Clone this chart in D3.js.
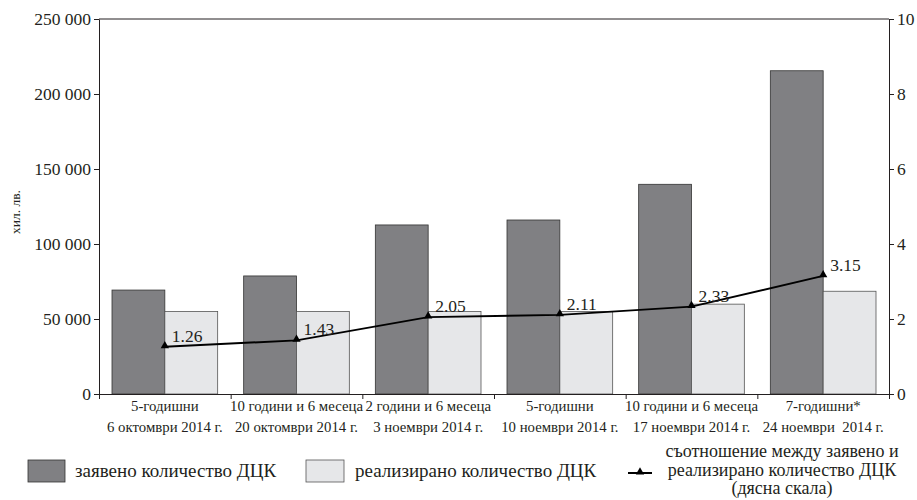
<!DOCTYPE html>
<html>
<head>
<meta charset="utf-8">
<script src="https://cdn.jsdelivr.net/npm/d3@7"></script>
<style>
  body { margin: 0; background: #fff; }
</style>
</head>
<body>
<script>
// data
var line1 = ["5-годишни", "10 години и 6 месеца", "2 години и 6 месеца", "5-годишни", "10 години и 6 месеца", "7-годишни*"];
var line2 = ["6 октомври 2014 г.", "20 октомври 2014 г.", "3 ноември 2014 г.", "10 ноември 2014 г.", "17 ноември 2014 г.", "24 ноември  2014 г."];
var zayaveno = [69300, 78700, 112700, 116000, 139800, 215500];
var realizirano = [55000, 55000, 55000, 55000, 59900, 68500];
var ratio = [1.26, 1.43, 2.05, 2.11, 2.33, 3.15];
var leftTicks = [0, 50000, 100000, 150000, 200000, 250000];
var rightTicks = [0, 2, 4, 6, 8, 10];

var FONT = "'Liberation Serif'";
var INK = "#231f20";

var margin = {top: 19, right: 28, bottom: 106, left: 99};
var width = 917 - margin.left - margin.right;
var height = 500 - margin.top - margin.bottom;

var svg = d3.select("body").append("svg")
  .attr("width", 917)
  .attr("height", 500);
var g = svg.append("g")
  .attr("transform", "translate(" + margin.left + "," + margin.top + ")");

var idx = d3.range(line1.length);
var xScale = d3.scaleBand().domain(idx).range([0, width]);
var yScale = d3.scaleLinear().domain([0, 250000]).range([height, 0]);
var rScale = d3.scaleLinear().domain([0, 10]).range([height, 0]);

var pad = 13;
var bw = (xScale.bandwidth() - 2 * pad) / 2;
var fmt = function(d) { return d3.format(",")(d).replace(/,/g, " "); };
var cx = function(i) { return xScale(i) + xScale.bandwidth() / 2; };

// top frame line
g.append("line").attr("x1", 0).attr("x2", width).attr("y1", 0).attr("y2", 0)
  .attr("stroke", INK).attr("stroke-width", 1);

// bars
g.selectAll(".dark").data(idx).enter().append("rect")
  .attr("x", function(i) { return xScale(i) + pad; })
  .attr("y", function(i) { return yScale(zayaveno[i]); })
  .attr("width", bw)
  .attr("height", function(i) { return height - yScale(zayaveno[i]); })
  .attr("fill", "#808083").attr("stroke", "#333").attr("stroke-width", 0.8);

g.selectAll(".light").data(idx).enter().append("rect")
  .attr("x", function(i) { return xScale(i) + pad + bw; })
  .attr("y", function(i) { return yScale(realizirano[i]); })
  .attr("width", bw)
  .attr("height", function(i) { return height - yScale(realizirano[i]); })
  .attr("fill", "#e6e7e9").attr("stroke", "#555").attr("stroke-width", 0.8);

// axes
var yg = g.append("g")
  .call(d3.axisLeft(yScale).tickValues(leftTicks).tickFormat(fmt).tickSize(5).tickSizeOuter(0));
var rg = g.append("g").attr("transform", "translate(" + width + ",0)")
  .call(d3.axisRight(rScale).tickValues(rightTicks).tickSize(5).tickSizeOuter(0));
var xg = g.append("g").attr("transform", "translate(0," + height + ")")
  .call(d3.axisBottom(d3.scaleLinear().domain([0, 6]).range([0, width]))
    .tickValues(d3.range(7)).tickSize(5).tickFormat("").tickSizeOuter(0));

[yg, rg, xg].forEach(function(a) {
  a.attr("font-family", FONT).attr("font-size", null);
  a.selectAll("path, line").attr("stroke", INK);
  a.selectAll("text").style("font-family", FONT).style("font-size", "17.5px").attr("fill", INK);
});
yg.selectAll("text").attr("x", -8);
rg.selectAll("text").attr("x", 8);

// category labels
var cat = g.selectAll(".cat").data(idx).enter().append("text")
  .attr("text-anchor", "middle")
  .style("font-family", FONT)
  .style("font-size", "14.8px")
  .style("white-space", "pre")
  .attr("fill", INK);
cat.append("tspan")
  .attr("x", cx)
  .attr("y", height + 17)
  .text(function(i) { return line1[i]; });
cat.append("tspan")
  .attr("x", cx)
  .attr("y", height + 38)
  .text(function(i) { return line2[i]; });

// ratio line
g.append("path")
  .datum(idx)
  .attr("d", d3.line().x(cx).y(function(i) { return rScale(ratio[i]); }))
  .attr("fill", "none").attr("stroke", "#000").attr("stroke-width", 2);

g.selectAll(".tri").data(idx).enter().append("path")
  .attr("d", d3.symbol().type(d3.symbolTriangle).size(30))
  .attr("transform", function(i) { return "translate(" + cx(i) + "," + (rScale(ratio[i]) - 1) + ")"; })
  .attr("fill", "#000");

g.selectAll(".lbl").data(idx).enter().append("text")
  .attr("x", function(i) { return cx(i) + 7; })
  .attr("y", function(i) { return rScale(ratio[i]) - 5; })
  .style("font-family", FONT)
  .style("font-size", "17.5px")
  .attr("fill", INK)
  .text(function(i) { return ratio[i].toFixed(2); });

// y title
svg.append("text")
  .attr("transform", "translate(20,212) rotate(-90)")
  .attr("text-anchor", "middle")
  .style("font-family", FONT)
  .style("font-size", "13.5px")
  .attr("fill", INK)
  .text("хил. лв.");

// legend
var lg = svg.append("g");
lg.append("rect").attr("x", 28).attr("y", 460).attr("width", 37).attr("height", 22)
  .attr("fill", "#808083").attr("stroke", "#333").attr("stroke-width", 0.8);
lg.append("text").attr("x", 75).attr("y", 477)
  .style("font-family", FONT).style("font-size", "19px").attr("fill", INK)
  .text("заявено количество ДЦК");
lg.append("rect").attr("x", 306).attr("y", 460).attr("width", 38).attr("height", 22)
  .attr("fill", "#e6e7e9").attr("stroke", "#555").attr("stroke-width", 0.8);
lg.append("text").attr("x", 355).attr("y", 477)
  .style("font-family", FONT).style("font-size", "19px").attr("fill", INK)
  .text("реализирано количество ДЦК");
lg.append("line").attr("x1", 628).attr("x2", 652).attr("y1", 473).attr("y2", 473)
  .attr("stroke", "#000").attr("stroke-width", 2);
lg.append("path").attr("d", d3.symbol().type(d3.symbolTriangle).size(30))
  .attr("transform", "translate(640,472)").attr("fill", "#000");
var lt = lg.append("text").attr("text-anchor", "middle")
  .style("font-family", FONT).style("font-size", "18px").attr("fill", INK);
lt.append("tspan").attr("x", 782).attr("y", 457).text("съотношение между заявено и");
lt.append("tspan").attr("x", 782).attr("y", 476).text("реализирано количество ДЦК");
lt.append("tspan").attr("x", 782).attr("y", 494).text("(дясна скала)");
</script>
</body>
</html>
